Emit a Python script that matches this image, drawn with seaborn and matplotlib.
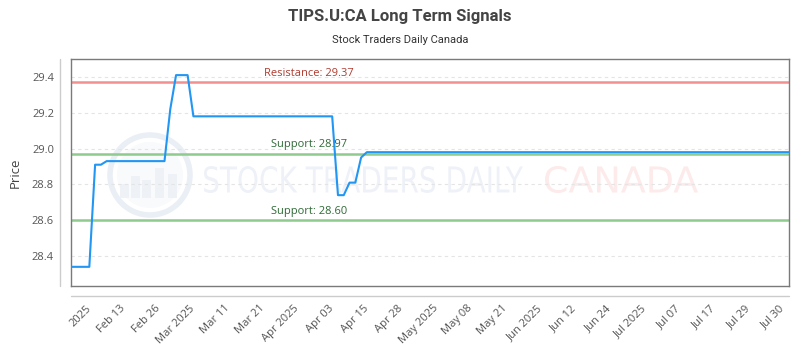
import numpy as np
import pandas as pd
import matplotlib
matplotlib.use("Agg")
import matplotlib.pyplot as plt
import seaborn as sns
from matplotlib.textpath import TextPath
from matplotlib.patches import PathPatch, Circle, Rectangle
from matplotlib.font_manager import FontProperties
from matplotlib.transforms import Affine2D
from matplotlib.lines import Line2D

# ---- data ----
price = ([28.34] * 4 + [28.91] * 2 + [28.93] * 11 + [29.22] + [29.41] * 3 +
         [29.18] * 25 + [28.74] * 2 + [28.81] * 2 + [28.95] + [28.98] * 74)
day_index = list(range(len(price)))
tick_labels = ["2025", "Feb 13", "Feb 26", "Mar 2025", "Mar 11", "Mar 21",
               "Apr 2025", "Apr 03", "Apr 15", "Apr 28", "May 2025", "May 08",
               "May 21", "Jun 2025", "Jun 12", "Jun 24", "Jul 2025", "Jul 07",
               "Jul 17", "Jul 29", "Jul 30"]
resistance = [29.37]
supports = [28.97, 28.60]
title = "TIPS.U:CA Long Term Signals"
subtitle = "Stock Traders Daily Canada"

df = pd.DataFrame({"idx": day_index, "price": price})

sns.set_theme(style="white")
plt.rcParams["font.family"] = ["Open Sans", "DejaVu Sans"]

fig = plt.figure(figsize=(8, 3.5), dpi=100)
L, R, B, T = 70.7 / 800, 789 / 800, (350 - 286) / 350, (350 - 59) / 350
ax = fig.add_axes([L, B, R - L, T - B])

# watermark (pixel coordinates)
def wm_text(s, x0, x1, ybot, h, color):
    tp = TextPath((0, 0), s, size=10, prop=FontProperties(family="DejaVu Sans"))
    ext = tp.get_extents()
    tr = (Affine2D().translate(-ext.x0, -ext.y0)
          .scale((x1 - x0) / ext.width, h / ext.height)
          .translate(x0, ybot))
    p = PathPatch(tp, transform=tr, facecolor=color, edgecolor="none", zorder=0.5)
    ax.add_patch(p)

wm_text("STOCK TRADERS DAILY", 204, 523, 350 - 193, 27, "#eef1f7")
wm_text("CANADA", 545, 698, 350 - 193, 27, "#fdeaea")
pix = Affine2D()
ax.add_patch(Circle((150, 350 - 175), 33, transform=pix, facecolor="#f8fafc",
                    edgecolor="none", zorder=0.4))
ax.add_patch(Circle((150, 350 - 175), 40, transform=pix, facecolor="none",
                    edgecolor="#eaeff6", lw=4, zorder=0.5))
for bx, bh in [(120, 14), (131, 22), (142, 18), (155, 30), (168, 24)]:
    ax.add_patch(Rectangle((bx, 350 - 198), 9, bh, transform=pix,
                           facecolor="#eef2f7", edgecolor="none", zorder=0.5))

sns.lineplot(data=df, x="idx", y="price", ax=ax, color="#2196F3", lw=1.5,
             zorder=3)

for r in resistance:
    ax.axhline(r, color="#f29090", lw=1.8, zorder=2)
    ax.annotate(f"Resistance: {r:.2f}", (41, r), xytext=(0, 2.5),
                textcoords="offset points", ha="center", va="bottom",
                fontsize=8, color="#b03a2e")
for s in supports:
    ax.axhline(s, color="#8fca8f", lw=1.8, zorder=2)
    ax.annotate(f"Support: {s:.2f}", (41, s), xytext=(0, 2.5),
                textcoords="offset points", ha="center", va="bottom",
                fontsize=8, color="#2e6b35")

ax.set_xlim(-0.22, 124)
ax.set_ylim(28.233, 29.50)
ax.set_yticks([28.4, 28.6, 28.8, 29.0, 29.2, 29.4])
ax.set_yticklabels([f"{v:.1f}" for v in [28.4, 28.6, 28.8, 29.0, 29.2, 29.4]])
ax.set_xticks(3.0 + 6 * np.arange(len(tick_labels)))
ax.set_xticklabels(tick_labels, rotation=45, ha="right", va="center",
                   rotation_mode="anchor")
ax.tick_params(axis="both", length=0, labelsize=8, labelcolor="#555555")
ax.tick_params(axis="y", pad=12)
ax.tick_params(axis="x", pad=15)
ax.grid(axis="y", color="#e4e4e4", lw=0.8, ls=(0, (3, 3)))
ax.set_xlabel("")
ax.set_ylabel("Price", fontsize=9.5, color="#444444", labelpad=7)
for sp in ax.spines.values():
    sp.set_color("#7a7a7a")
    sp.set_linewidth(1)

# offset axis lines
fig.add_artist(Line2D([60 / 800, 60 / 800], [B, T], transform=fig.transFigure,
                      color="#cccccc", lw=1))
fig.add_artist(Line2D([L, R], [(350 - 296) / 350] * 2, transform=fig.transFigure,
                      color="#cccccc", lw=1))

fig.text(0.5, 1 - 16 / 350, title, ha="center", va="center", fontsize=12,
         fontweight="bold", color="#444444", family=["Roboto", "DejaVu Sans"])
fig.text(0.5, 1 - 40 / 350, subtitle, ha="center", va="center", fontsize=8,
         color="#333333", family=["Roboto", "DejaVu Sans"])

fig.savefig("out.png", dpi=100)
